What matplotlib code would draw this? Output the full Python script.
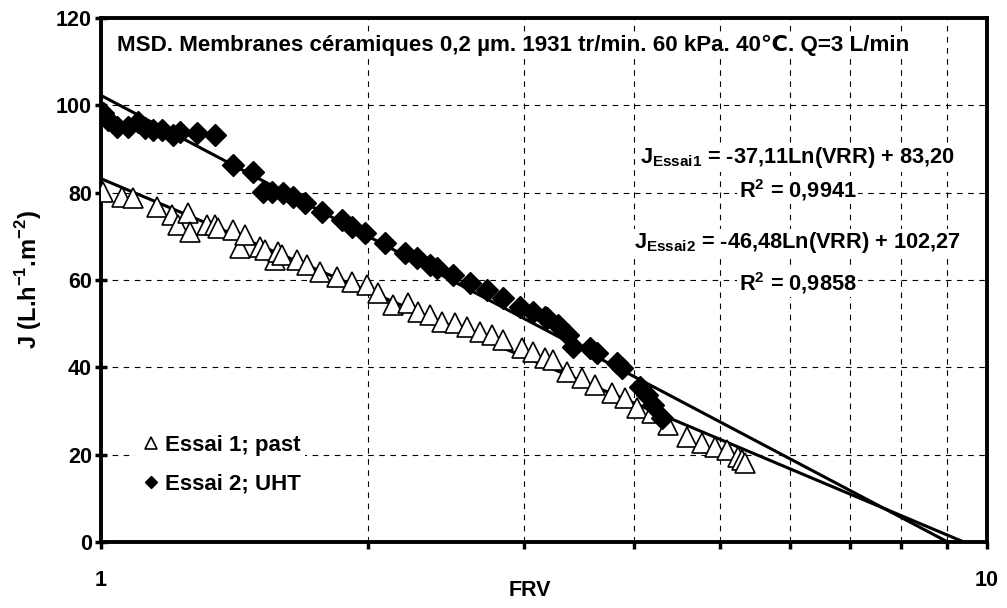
import numpy as np
import matplotlib.pyplot as plt
from matplotlib.ticker import FixedLocator, NullFormatter

plt.rcParams['font.family'] = ['Liberation Sans', 'DejaVu Sans']
plt.rcParams['mathtext.fontset'] = 'custom'
plt.rcParams['mathtext.rm'] = 'Liberation Sans'
plt.rcParams['mathtext.bf'] = 'Liberation Sans:bold'

# Essai 1; past (triangles)
frv_essai1 = [1.005, 1.056, 1.087, 1.157, 1.203, 1.222, 1.254, 1.260, 1.317, 1.345,
              1.355, 1.409, 1.435, 1.454, 1.512, 1.531, 1.571, 1.583, 1.600, 1.664,
              1.707, 1.767, 1.846, 1.920, 1.996, 2.054, 2.136, 2.221, 2.279, 2.351,
              2.426, 2.509, 2.589, 2.678, 2.763, 2.843, 2.987, 3.073, 3.170, 3.236,
              3.357, 3.491, 3.611, 3.774, 3.903, 4.027, 4.187, 4.365, 4.586, 4.768,
              4.932, 5.088, 5.236, 5.291, 5.333]
j_essai1 = [80.1, 79.0, 78.8, 76.7, 74.9, 72.6, 75.3, 71.0, 72.6, 72.6,
            71.9, 71.4, 67.3, 70.3, 67.5, 66.9, 64.6, 66.4, 65.7, 64.6,
            63.4, 61.8, 60.7, 59.5, 58.9, 57.0, 54.3, 54.7, 52.7, 52.0,
            50.4, 50.1, 49.2, 48.1, 47.4, 46.3, 44.5, 43.5, 42.1, 41.7,
            38.9, 37.6, 36.0, 34.1, 33.0, 30.7, 29.5, 26.8, 24.0, 22.7,
            21.8, 21.1, 19.5, 18.8, 18.1]

# Essai 2; UHT (diamonds)
frv_essai2 = [1.005, 1.018, 1.042, 1.073, 1.101, 1.121, 1.145, 1.172, 1.206, 1.228,
              1.284, 1.345, 1.409, 1.485, 1.524, 1.560, 1.605, 1.647, 1.699, 1.776,
              1.871, 1.920, 1.986, 2.092, 2.203, 2.273, 2.351, 2.394, 2.496, 2.609,
              2.727, 2.843, 2.971, 3.073, 3.170, 3.186, 3.280, 3.366, 3.410, 3.564,
              3.630, 3.824, 3.873, 4.059, 4.134, 4.198, 4.298]
j_essai2 = [98.2, 96.6, 95.0, 95.0, 96.2, 94.8, 94.3, 94.3, 93.2, 93.9,
            93.7, 93.2, 86.3, 84.7, 80.1, 80.1, 79.9, 79.0, 77.6, 75.6,
            73.7, 72.1, 70.8, 68.5, 66.2, 65.0, 63.4, 62.7, 61.1, 59.3,
            57.7, 55.9, 53.8, 52.7, 51.5, 51.3, 49.7, 47.4, 44.7, 44.4,
            43.3, 41.0, 39.8, 35.5, 33.7, 31.4, 28.4]

# regressions logarithmiques (coefficients affichés)
fit1 = (-37.11, 83.20)
fit2 = (-46.48, 102.27)

fig = plt.figure(figsize=(10.07, 6.08), dpi=100)
ax = fig.add_axes([0.1003, 0.1086, 0.8799, 0.8618])

xs = np.logspace(0, 1, 300)
ax.plot(xs, fit1[0] * np.log(xs) + fit1[1], color='black', lw=2.2, zorder=2)
ax.plot(xs, fit2[0] * np.log(xs) + fit2[1], color='black', lw=2.2, zorder=2)

ax.plot(frv_essai1, j_essai1, linestyle='none', marker='^', ms=15,
        mfc='white', mec='black', mew=1.2, zorder=3, label='Essai 1; past')
ax.plot(frv_essai2, j_essai2, linestyle='none', marker='D', ms=11,
        mfc='black', mec='black', zorder=4, label='Essai 2; UHT')

ax.set_xscale('log')
ax.set_xlim(1, 10)
ax.set_ylim(0, 120)
ax.xaxis.set_major_locator(FixedLocator([1, 10]))
ax.xaxis.set_minor_locator(FixedLocator([2, 3, 4, 5, 6, 7, 8, 9]))
ax.xaxis.set_minor_formatter(NullFormatter())
ax.set_xticklabels(['1', '10'])
ax.set_yticks(np.arange(0, 121, 20))

for lab in ax.get_xticklabels() + ax.get_yticklabels():
    lab.set_fontweight('bold')
    lab.set_fontsize(15.5)
ax.tick_params(axis='y', direction='inout', length=9, width=2.5, pad=2)
ax.tick_params(axis='x', which='both', direction='out', length=5, width=2.5, pad=15)

ax.grid(True, axis='y', which='major', color='black', lw=0.8, linestyle=(0, (5, 5)))
ax.grid(True, axis='x', which='minor', color='black', lw=0.8, linestyle=(0, (5, 5)))
ax.set_axisbelow(True)
for sp in ax.spines.values():
    sp.set_linewidth(2.8)

ax.set_xlabel('FRV', fontsize=15.5, fontweight='bold')
ax.xaxis.set_label_coords(0.484, -0.092)
ax.xaxis.label.set_va('center')
ax.set_ylabel(r'J (L.h$^{\mathbf{-1}}$.m$^{\mathbf{-2}}$)', fontsize=17, fontweight='bold')
ax.yaxis.set_label_coords(-0.064, 0.5)

white = dict(facecolor='white', edgecolor='none', pad=1)
ax.text(0.018, 0.948, 'MSD. Membranes céramiques 0,2 µm. 1931 tr/min. 60 kPa. 40℃. Q=3 L/min',
        transform=ax.transAxes, fontsize=16.1, fontweight='bold', ha='left', va='center',
        bbox=white, zorder=5)
eq_x = 0.786
ax.text(eq_x, 0.733, r'$\mathbf{J_{Essai1}}$ = -37,11Ln(VRR) + 83,20', transform=ax.transAxes,
        fontsize=15.7, fontweight='bold', ha='center', va='center', bbox=white, zorder=5)
ax.text(eq_x, 0.672, r'R$^{\mathbf{2}}$ = 0,9941', transform=ax.transAxes,
        fontsize=15.7, fontweight='bold', ha='center', va='center', bbox=white, zorder=5)
ax.text(eq_x, 0.571, r'$\mathbf{J_{Essai2}}$ = -46,48Ln(VRR) + 102,27', transform=ax.transAxes,
        fontsize=15.7, fontweight='bold', ha='center', va='center', bbox=white, zorder=5)
ax.text(eq_x, 0.494, r'R$^{\mathbf{2}}$ = 0,9858', transform=ax.transAxes,
        fontsize=15.7, fontweight='bold', ha='center', va='center', bbox=white, zorder=5)

leg = ax.legend(loc='lower left', bbox_to_anchor=(0.026, 0.06), frameon=True,
                prop={'weight': 'bold', 'size': 16}, handletextpad=0.15,
                handlelength=1.0, labelspacing=0.8, markerscale=0.6,
                borderpad=0.2, fancybox=False)
leg.get_frame().set_edgecolor('none')
leg.get_frame().set_facecolor('white')
leg.get_frame().set_alpha(1)
leg.set_zorder(6)

fig.savefig('out.png', dpi=100)
